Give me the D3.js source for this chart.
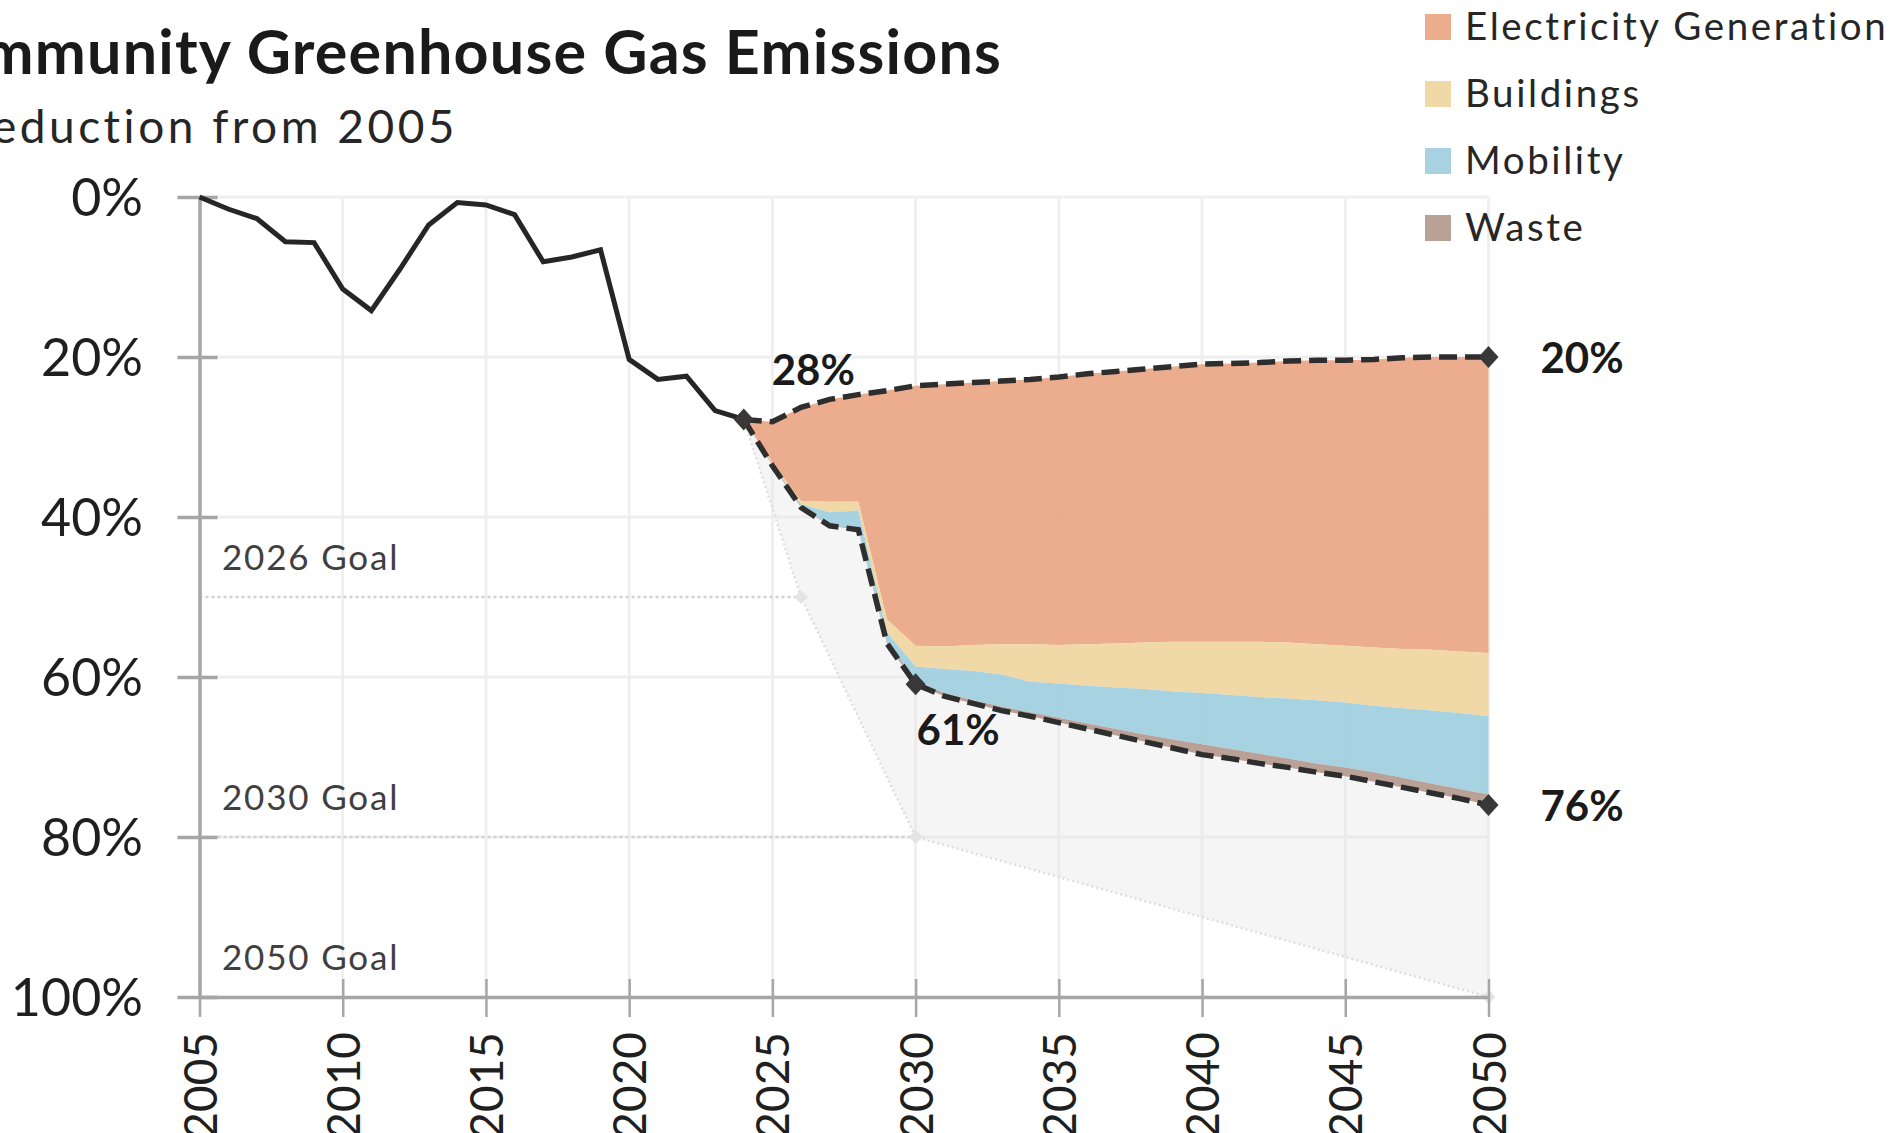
<!DOCTYPE html>
<html>
<head>
<meta charset="utf-8">
<script src="https://d3js.org/d3.v7.min.js"></script>
<style>
  body { margin: 0; background: #fff; }
  svg { display: block; font-family: Lato, "Open Sans", sans-serif; }
</style>
</head>
<body>
<svg width="1903" height="1133"></svg>

<script>
// reduction from 2005, percent
var histYears  = [2005, 2006, 2007, 2008, 2009, 2010, 2011, 2012, 2013, 2014,
                  2015, 2016, 2017, 2018, 2019, 2020, 2021, 2022, 2023, 2024];
var histValues = [0, 1.5, 2.7, 5.6, 5.7, 11.5, 14.2, 9.0, 3.5, 0.7,
                  1.0, 2.2, 8.1, 7.5, 6.6, 20.3, 22.8, 22.4, 26.7, 27.8];

var projYears = [2024, 2025, 2026, 2027, 2028, 2029, 2030, 2031, 2032, 2033, 2034,
                 2035, 2036, 2037, 2038, 2039, 2040, 2041, 2042, 2043, 2044,
                 2045, 2046, 2047, 2048, 2049, 2050];
// upper dashed line (top of the stack)
var baseline    = [27.8, 28.1, 26.3, 25.3, 24.7, 24.2, 23.6, 23.4, 23.2, 23.0, 22.8,
                   22.5, 22.1, 21.8, 21.5, 21.2, 20.9, 20.8, 20.7, 20.5, 20.4,
                   20.4, 20.3, 20.1, 20.0, 20.0, 20.0];
var electricity = [0, 5.1, 11.7, 12.8, 13.4, 28.6, 32.5, 32.8, 32.8, 32.9, 33.1,
                   33.5, 33.8, 34.0, 34.2, 34.4, 34.7, 34.8, 34.9, 35.2, 35.5,
                   35.7, 36.0, 36.4, 36.6, 36.8, 37.0];
var buildings   = [0, 0.2, 0.4, 1.3, 1.1, 1.6, 2.6, 2.8, 3.25, 3.8, 4.7,
                   4.8, 5.2, 5.5, 5.8, 6.2, 6.4, 6.65, 6.9, 7.0, 7.0,
                   7.1, 7.3, 7.4, 7.6, 7.7, 7.9];
var mobility    = [0, 0.1, 0.3, 1.6, 2.3, 1.2, 1.8, 3.0, 3.65, 4.0, 3.8,
                   4.3, 4.7, 5.2, 5.7, 6.0, 6.4, 6.75, 7.1, 7.5, 7.9,
                   8.1, 8.3, 8.7, 9.1, 9.5, 9.8];
var waste       = [0, 0.1, 0.1, 0.1, 0.1, 0.2, 0.4, 0.4, 0.4, 0.5, 0.5,
                   0.6, 0.7, 0.8, 0.9, 1.1, 1.3, 1.2, 1.2, 1.1, 1.1,
                   1.1, 1.2, 1.2, 1.2, 1.2, 1.3];

var goalYears  = [2024, 2026, 2030, 2050];
var goalValues = [27.8, 50, 80, 100];
var goalLabels = ["2026 Goal", "2030 Goal", "2050 Goal"];

var sectors = ["Electricity Generation", "Buildings", "Mobility", "Waste"];
var colors  = ["#eaa684", "#efd69e", "#a0cee0", "#b4998e"];
var legendColors = ["#ecad8d", "#f0d9a6", "#a8d2e2", "#baa196"];

var yTicks = [0, 20, 40, 60, 80, 100];
var xTicks = [2005, 2010, 2015, 2020, 2025, 2030, 2035, 2040, 2045, 2050];

var svg = d3.select("svg");
var x = d3.scaleLinear().domain([2005, 2050]).range([199.5, 1488.5]);
var y = d3.scaleLinear().domain([0, 100]).range([197, 997]);

// rows for the stack
var rows = projYears.map(function(yr, i) {
  return { year: yr, base: baseline[i],
    "Electricity Generation": electricity[i], "Buildings": buildings[i],
    "Mobility": mobility[i], "Waste": waste[i] };
});
var series = d3.stack().keys(sectors)(rows);
var lower = rows.map(function(r, i) { return r.base + series[3][i][1]; });

// gridlines
svg.append("g").selectAll("line").data(yTicks).enter().append("line")
  .attr("x1", x(2005)).attr("x2", x(2050))
  .attr("y1", d => y(d)).attr("y2", d => y(d))
  .attr("stroke", "#efefef").attr("stroke-width", 3);
svg.append("g").selectAll("line").data(xTicks.slice(1)).enter().append("line")
  .attr("x1", d => x(d)).attr("x2", d => x(d))
  .attr("y1", y(0)).attr("y2", y(100))
  .attr("stroke", "#efefef").attr("stroke-width", 3);

// goal region
var goalPts = goalYears.map((g, i) => [g, goalValues[i]]);
var lowerPts = projYears.map((yr, i) => [yr, lower[i]]);
var ptLine = d3.line().x(d => x(d[0])).y(d => y(d[1]));
svg.append("path")
  .attr("d", ptLine(lowerPts.concat(goalPts.slice().reverse())) + "Z")
  .attr("fill", "#e6e6e6").attr("fill-opacity", 0.4);
svg.append("path")
  .attr("d", ptLine(goalPts))
  .attr("fill", "none").attr("stroke", "#dedede")
  .attr("stroke-width", 2.5).attr("stroke-dasharray", "2,3");

// goal dotted levels + labels
var goalLevels = goalPts.slice(1);
svg.append("g").selectAll("line").data(goalLevels.slice(0, 2)).enter().append("line")
  .attr("x1", x(2005)).attr("x2", d => x(d[0]))
  .attr("y1", d => y(d[1])).attr("y2", d => y(d[1]))
  .attr("stroke", "#d2d2d2").attr("stroke-width", 2.5)
  .attr("stroke-dasharray", "3,3");
svg.append("g").selectAll("path").data(goalLevels).enter().append("path")
  .attr("d", "M0,-7L7,0L0,7L-7,0Z")
  .attr("transform", d => "translate(" + x(d[0]) + "," + y(d[1]) + ")")
  .attr("fill", "#e4e4e4");
svg.append("g").selectAll("text").data(goalLevels).enter().append("text")
  .attr("x", 222).attr("y", d => y(d[1]) - 27)
  .attr("font-size", 35).attr("letter-spacing", 1.8)
  .attr("fill", "#404040")
  .text((d, i) => goalLabels[i]);

// stacked sector areas
var area = d3.area()
  .x(d => x(d.data.year))
  .y0(d => y(d.data.base + d[0]))
  .y1(d => y(d.data.base + d[1]));
svg.append("g").selectAll("path").data(series).enter().append("path")
  .attr("d", area)
  .attr("fill", (d, i) => colors[i]).attr("fill-opacity", 0.92);

// axes
var yAxis = svg.append("g")
  .attr("transform", "translate(" + x(2005) + ",0)")
  .call(d3.axisLeft(y).tickValues(yTicks).tickFormat(d => d + "%")
    .tickSize(22).tickSizeOuter(0).tickPadding(34.5));
yAxis.select(".domain").attr("stroke", "#a6a6a6").attr("stroke-width", 3.5);
yAxis.selectAll(".tick line").attr("x1", 18)
  .attr("stroke", "#a6a6a6").attr("stroke-width", 3.5);
yAxis.selectAll(".tick text")
  .attr("dy", "0.36em").attr("font-size", 52)
  .attr("font-family", "Lato").attr("fill", "#1f1f1f");

var xAxis = svg.append("g")
  .attr("transform", "translate(0," + y(100) + ")")
  .call(d3.axisBottom(x).tickValues(xTicks).tickFormat(d3.format("d"))
    .tickSize(20).tickSizeOuter(0));
xAxis.select(".domain").attr("stroke", "#a6a6a6").attr("stroke-width", 3.5);
xAxis.selectAll(".tick line").attr("y1", -18)
  .attr("stroke", "#a6a6a6").attr("stroke-width", 2.5);
xAxis.selectAll(".tick text")
  .attr("transform", "rotate(-90)")
  .attr("text-anchor", "end")
  .attr("x", -35).attr("y", 0).attr("dy", "0.36em")
  .attr("font-size", 46).attr("font-family", "Lato").attr("fill", "#1f1f1f");

// historical emissions
svg.append("path")
  .datum(histYears.map((yr, i) => [yr, histValues[i]]))
  .attr("d", ptLine)
  .attr("fill", "none").attr("stroke", "#262626").attr("stroke-width", 5);

// projection bounds
[baseline, lower].forEach(function(vals) {
  svg.append("path")
    .datum(projYears.map((yr, i) => [yr, vals[i]]))
    .attr("d", ptLine)
    .attr("fill", "none").attr("stroke", "#2e2e2e")
    .attr("stroke-width", 5.5).attr("stroke-dasharray", "18,8");
});

// markers and value labels
var marks = [
  { year: 2024, v: histValues[histValues.length - 1], dx: 28, dy: -34 },
  { year: 2030, v: lower[projYears.indexOf(2030)], dx: 1, dy: 61 },
  { year: 2050, v: baseline[baseline.length - 1], dx: 52, dy: 16 },
  { year: 2050, v: lower[lower.length - 1], dx: 52, dy: 16 }
];
svg.append("g").selectAll("path").data(marks).enter().append("path")
  .attr("d", "M0,-11L10,0L0,11L-10,0Z")
  .attr("transform", d => "translate(" + x(d.year) + "," + y(d.v) + ")")
  .attr("fill", "#383838");
svg.append("g").selectAll("text").data(marks).enter().append("text")
  .attr("x", d => x(d.year) + d.dx).attr("y", d => y(d.v) + d.dy)
  .attr("font-size", 42).attr("font-weight", 700).attr("fill", "#1a1a1a")
  .text(d => Math.round(d.v) + "%");

// legend
var lg = svg.append("g").selectAll("g").data(sectors).enter().append("g")
  .attr("transform", (d, i) => "translate(1425," + (14 + i * 67) + ")");
lg.append("rect").attr("width", 26).attr("height", 26)
  .attr("fill", (d, i) => legendColors[i]);
lg.append("text").attr("x", 40).attr("y", 26)
  .attr("font-size", 38.5).attr("letter-spacing", 2.6).attr("fill", "#262626")
  .text(d => d);

// title
svg.append("text").attr("x", 1002).attr("y", 74)
  .attr("text-anchor", "end").attr("font-size", 61).attr("font-weight", 700)
  .attr("letter-spacing", 1.2).attr("fill", "#1a1a1a")
  .text("Community Greenhouse Gas Emissions");
svg.append("text").attr("x", 458).attr("y", 143)
  .attr("text-anchor", "end").attr("font-size", 46).attr("letter-spacing", 3.5)
  .attr("fill", "#262626")
  .text("% Reduction from 2005");
</script>
</body>
</html>
